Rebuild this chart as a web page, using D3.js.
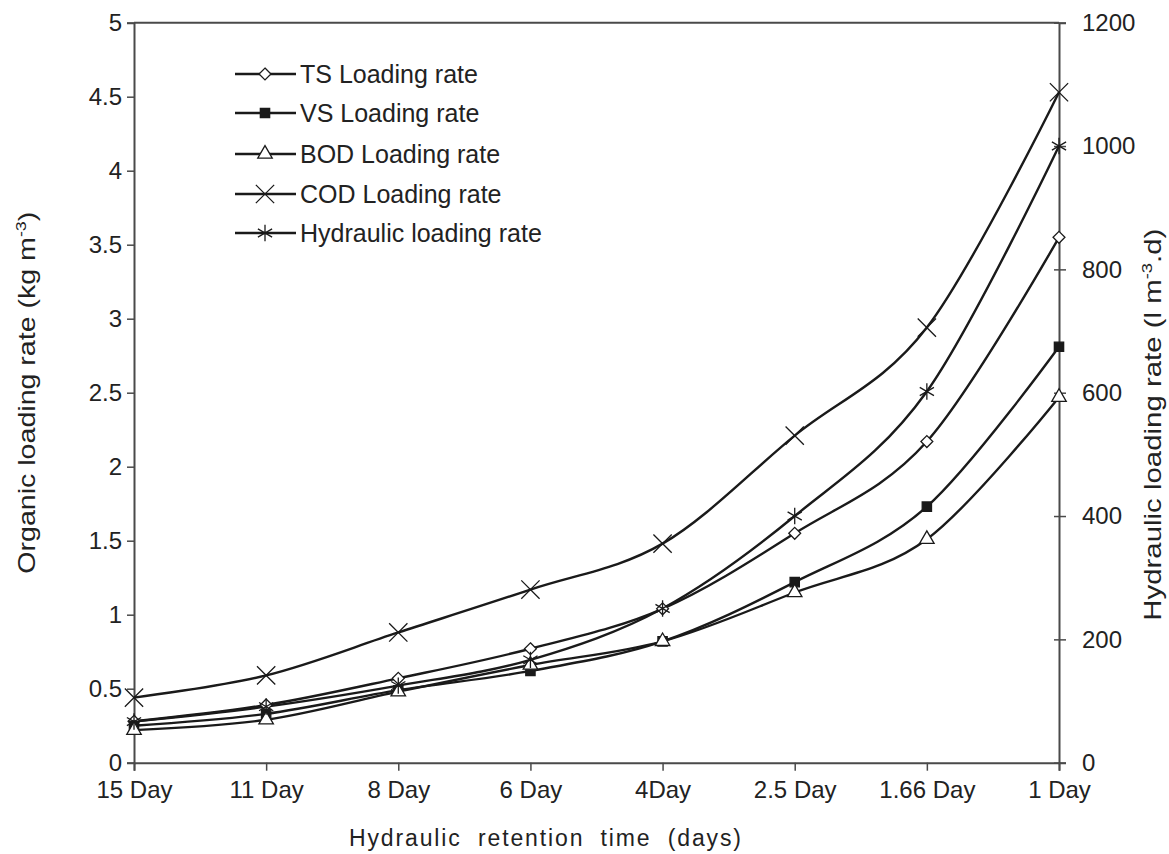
<!DOCTYPE html>
<html>
<head>
<meta charset="utf-8">
<script src="https://cdn.jsdelivr.net/npm/d3@7"></script>
<style>
  html, body { margin: 0; padding: 0; background: #fff; }
  svg { display: block; font-family: "Liberation Sans", Arial, sans-serif; }
</style>
</head>
<body>
<div id="chart"></div>
<script>
// ---- data ----
const categories = ['15 Day', '11 Day', '8 Day', '6 Day', '4Day', '2.5 Day', '1.66 Day', '1 Day'];
const tsLoad = [0.28, 0.39, 0.57, 0.77, 1.04, 1.55, 2.17, 3.55];
const vsLoad = [0.25, 0.33, 0.49, 0.62, 0.82, 1.22, 1.73, 2.81];
const bodLoad = [0.22, 0.29, 0.48, 0.66, 0.82, 1.15, 1.51, 2.47];
const codLoad = [0.44, 0.59, 0.88, 1.17, 1.48, 2.21, 2.94, 4.53];
const hydraulicLoad = [66.7, 90.9, 125, 166.7, 250, 400, 602, 1000]; // right axis
const leftTicks = [0, 0.5, 1, 1.5, 2, 2.5, 3, 3.5, 4, 4.5, 5];
const rightTicks = [0, 200, 400, 600, 800, 1000, 1200];

const W = 1169, H = 854;
const X0 = 134, X1 = 1059, Y0 = 762.7, Y1 = 22.7;
const INK = '#1a1a1a', AXIS = '#4a4a4a', TEXT = '#222';

const series = [
  { name: 'TS Loading rate', values: tsLoad, axis: 'l', sym: d3.symbolDiamond2, size: 90, fill: '#fff' },
  { name: 'VS Loading rate', values: vsLoad, axis: 'l', sym: d3.symbolSquare2, size: 110, fill: INK },
  { name: 'BOD Loading rate', values: bodLoad, axis: 'l', sym: d3.symbolTriangle2, size: 150, fill: '#fff' },
  { name: 'COD Loading rate', values: codLoad, axis: 'l', sym: d3.symbolX, size: 220, fill: 'none' },
  { name: 'Hydraulic loading rate', values: hydraulicLoad, axis: 'r', sym: d3.symbolAsterisk, size: 190, fill: 'none' },
];

const svg = d3.select('#chart').append('svg').attr('width', W).attr('height', H);

const x = d3.scalePoint().domain(categories).range([X0, X1]);
const yL = d3.scaleLinear().domain([0, 5]).range([Y0, Y1]);
const yR = d3.scaleLinear().domain([0, 1200]).range([Y0, Y1]);

// ---- axes ----
function styleAxis(g) {
  g.selectAll('path.domain').attr('stroke', AXIS).attr('stroke-width', 2);
  g.selectAll('.tick line').attr('stroke', AXIS).attr('stroke-width', 1.5);
  g.selectAll('.tick text').attr('fill', TEXT).style('font-size', '24px')
    .style('font-family', '"Liberation Sans", Arial, sans-serif');
}

const gx = svg.append('g').attr('transform', `translate(0,${Y0})`)
  .call(d3.axisBottom(x).tickSizeOuter(0).tickSize(8).tickPadding(10));
styleAxis(gx);

const gl = svg.append('g').attr('transform', `translate(${X0},0)`)
  .call(d3.axisLeft(yL).tickValues(leftTicks).tickFormat(d3.format('~g')).tickSizeOuter(0).tickSize(7).tickPadding(5));
styleAxis(gl);

const gr = svg.append('g').attr('transform', `translate(${X1},0)`)
  .call(d3.axisRight(yR).tickValues(rightTicks).tickFormat(d3.format('d')).tickSizeOuter(0).tickSize(7).tickPadding(16));
styleAxis(gr);
// right ticks cross the axis
gr.selectAll('.tick').append('line').attr('x1', -5).attr('x2', 0)
  .attr('stroke', AXIS).attr('stroke-width', 1.5);

// top border of plot area
svg.append('line').attr('x1', X0).attr('x2', X1).attr('y1', Y1).attr('y2', Y1)
  .attr('stroke', AXIS).attr('stroke-width', 2);

// ---- titles ----
const yTitle = svg.append('text')
  .attr('transform', `translate(35,${(Y0 + Y1) / 2 + 0}) rotate(-90)`)
  .attr('text-anchor', 'middle').attr('fill', TEXT).style('font-size', '24px')
  .attr('textLength', 362).attr('lengthAdjust', 'spacingAndGlyphs');
yTitle.append('tspan').text('Organic loading rate (kg m');
yTitle.append('tspan').attr('dy', -9).style('font-size', '15px').text('-3');
yTitle.append('tspan').attr('dy', 9).text(')');

const rTitle = svg.append('text')
  .attr('transform', `translate(1161,${(Y0 + Y1) / 2 + 32}) rotate(-90)`)
  .attr('text-anchor', 'middle').attr('fill', TEXT).style('font-size', '24px')
  .attr('textLength', 392).attr('lengthAdjust', 'spacingAndGlyphs');
rTitle.append('tspan').text('Hydraulic loading rate (l m');
rTitle.append('tspan').attr('dy', -9).style('font-size', '15px').text('-3');
rTitle.append('tspan').attr('dy', 9).text('.d)');

svg.append('text').attr('x', 545).attr('y', 846)
  .attr('text-anchor', 'middle').attr('fill', TEXT).style('font-size', '23px')
  .style('word-spacing', '8px')
  .attr('textLength', 392).attr('lengthAdjust', 'spacing')
  .text('Hydraulic retention time (days)');

// ---- lines + markers ----
const plot = svg.append('g');
series.forEach((s) => {
  const y = s.axis === 'l' ? yL : yR;
  const line = d3.line()
    .x((d, i) => x(categories[i]))
    .y((d) => y(d))
    .curve(d3.curveCardinal.tension(0));
  plot.append('path').datum(s.values)
    .attr('d', line).attr('fill', 'none')
    .attr('stroke', INK).attr('stroke-width', 2.4);
});
series.forEach((s) => {
  const y = s.axis === 'l' ? yL : yR;
  const sym = d3.symbol().type(s.sym).size(s.size);
  plot.append('g').selectAll('path').data(s.values).join('path')
    .attr('transform', (d, i) => `translate(${x(categories[i])},${y(d)})`)
    .attr('d', sym).attr('fill', s.fill)
    .attr('stroke', INK).attr('stroke-width', 1.3);
});

// ---- legend ----
const legendRows = [74, 113, 154, 194, 233];
const lg = svg.append('g');
series.forEach((s, i) => {
  const row = lg.append('g').attr('transform', `translate(0,${legendRows[i]})`);
  row.append('line').attr('x1', 235).attr('x2', 296).attr('stroke', INK).attr('stroke-width', 2.4);
  row.append('path').attr('transform', 'translate(265,0)')
    .attr('d', d3.symbol().type(s.sym).size(s.size)).attr('fill', s.fill)
    .attr('stroke', INK).attr('stroke-width', 1.3);
  row.append('text').attr('x', 300).attr('y', 9).attr('fill', TEXT)
    .style('font-size', '25px').text(s.name);
});
</script>
</body>
</html>
